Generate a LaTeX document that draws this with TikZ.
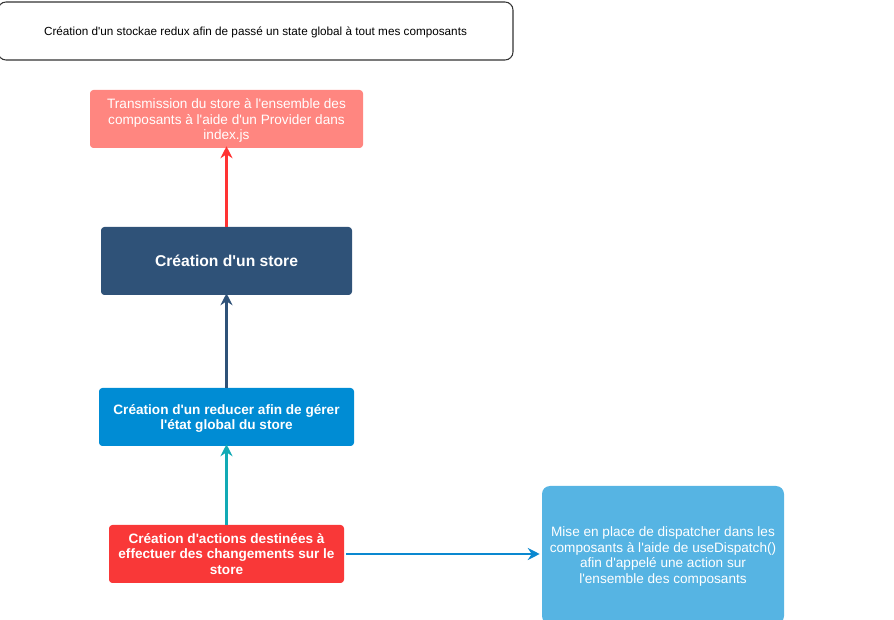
\documentclass[tikz,border=0pt]{standalone}
\usepackage{fontspec}
\setmainfont{Liberation Sans}
\usepackage{tikz}
\usetikzlibrary{positioning,arrows.meta}
\definecolor{providerfill}{HTML}{FF8680}
\definecolor{storefill}{HTML}{2F5278}
\definecolor{reducerfill}{HTML}{008CD4}
\definecolor{actionfill}{HTML}{F93838}
\definecolor{dispatchfill}{HTML}{56B4E3}
\definecolor{redarrow}{HTML}{FF3333}
\definecolor{tealarrow}{HTML}{12AAB5}
\definecolor{bluearrow}{HTML}{0A88D0}
\newcommand{\squote}{\textquotesingle}
\tikzset{%
  every step/.style={
    rectangle,
    rounded corners=2.5pt,
    draw=none,
    text=white,
    align=center,
    inner sep=2pt,
    text depth=0pt,
    font=\fontsize{10.2}{11.7}\selectfont
  },
  step title/.style={
    every step,
    font=\fontsize{10.2}{11.7}\selectfont\bfseries
  },
  link/.style={
    ->,
    line width=1.8pt
  },
}

\begin{document}
\begin{tikzpicture}[> = {Stealth[length=9pt, width=9pt, inset=3pt]}, x=0.75pt, y=-0.75pt]
\useasboundingbox (0,0) rectangle (894,620);
\node[rectangle, rounded corners=6pt, draw=black!80, thick, minimum width=386.25pt, minimum height=43.5pt, text depth=0pt, font=\fontsize{8.8}{11}\selectfont] (box_top) at (255.5,31) {Création d\squote un stockae redux afin de passé un state global à tout mes composants};
\node[every step, fill=providerfill, minimum width=204.75pt, minimum height=43.5pt] (box_provider) at (226.5,119) {Transmission du store à l\squote ensemble des\\composants à l\squote aide d\squote un Provider dans\\index.js};
\node[step title, fill=storefill, minimum width=188.25pt, minimum height=51pt, font=\fontsize{11.75}{13}\selectfont\bfseries] (box_store) at (226.5,261) {Création d\squote un store};
\node[step title, fill=reducerfill, minimum width=191.25pt, minimum height=43.5pt] (box_reducer) at (226.5,417) {Création d\squote un reducer afin de gérer\\l\squote état global du store};
\node[step title, fill=actionfill, minimum width=176.25pt, minimum height=43.5pt] (box_action) at (226.5,554) {Création d\squote actions destinées à\\effectuer des changements sur le\\store};
\node[every step, fill=dispatchfill, rounded corners=6pt, minimum width=181.5pt, minimum height=103.5pt] (box_dispatch) at (663,555) {Mise en place de dispatcher dans les\\composants à l\squote aide de useDispatch()\\afin d\squote appelé une action sur\\l\squote ensemble des composants};
\draw[link, redarrow] (box_store.north) -- ([yshift=1.5pt]box_provider.south);
\draw[link, storefill] (box_reducer.north) -- ([yshift=1.5pt]box_store.south);
\draw[link, tealarrow] (box_action.north) -- ([yshift=1.5pt]box_reducer.south);
\draw[link, bluearrow] ([xshift=1.5pt]box_action.east) -- ([xshift=-1.5pt]box_dispatch.west |- box_action.east);
\end{tikzpicture}
\end{document}
